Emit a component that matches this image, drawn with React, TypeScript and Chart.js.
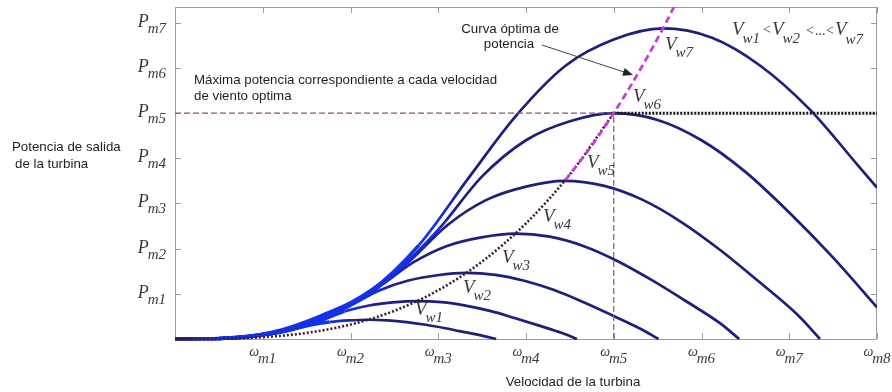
import { useEffect, useRef } from 'react';
import { Chart, registerables } from 'chart.js';

Chart.register(...registerables);

// ---------- axes ----------
const omegaTickValues = [1, 2, 3, 4, 5, 6, 7, 8];
const omegaTickSubs = ['m1', 'm2', 'm3', 'm4', 'm5', 'm6', 'm7', 'm8'];
const powerTickValues = [1, 2, 3, 4, 5, 6, 7];
const powerTickSubs = ['m1', 'm2', 'm3', 'm4', 'm5', 'm6', 'm7'];
const xMax = 8;
const yMax = 7.35;

// ---------- power curves (one per wind speed) ----------
const vw1X = [0, 0.22, 0.44, 0.66, 0.88, 1.1, 1.32, 1.54, 1.76, 1.98, 2.2, 2.42, 2.64, 2.86, 3.08, 3.3, 3.52, 3.66];
const vw1Y = [0, 0.001, 0.007, 0.025, 0.058, 0.119, 0.204, 0.307, 0.375, 0.411, 0.426, 0.413, 0.375, 0.315, 0.239, 0.153, 0.064, 0];

const vw2X = [0, 0.28, 0.55, 0.83, 1.1, 1.38, 1.66, 1.93, 2.21, 2.48, 2.76, 3.04, 3.31, 3.59, 3.86, 4.14, 4.42, 4.58];
const vw2Y = [0, 0.002, 0.014, 0.05, 0.118, 0.24, 0.41, 0.61, 0.742, 0.81, 0.84, 0.815, 0.739, 0.622, 0.47, 0.302, 0.126, 0];

const vw3X = [0, 0.33, 0.66, 1.0, 1.33, 1.66, 1.99, 2.32, 2.66, 2.99, 3.32, 3.65, 3.98, 4.32, 4.65, 4.98, 5.31, 5.51];
const vw3Y = [0, 0.003, 0.026, 0.09, 0.21, 0.44, 0.73, 1.07, 1.295, 1.412, 1.465, 1.421, 1.289, 1.084, 0.82, 0.527, 0.22, 0];

const vw4X = [0, 0.39, 0.78, 1.16, 1.55, 1.94, 2.33, 2.72, 3.1, 3.49, 3.88, 4.27, 4.66, 5.04, 5.43, 5.82, 6.21, 6.43];
const vw4Y = [0, 0.005, 0.042, 0.15, 0.36, 0.7, 1.16, 1.7, 2.06, 2.251, 2.335, 2.265, 2.055, 1.728, 1.308, 0.841, 0.35, 0];

const vw5X = [0, 0.44, 0.89, 1.33, 1.78, 2.22, 2.66, 3.11, 3.55, 4.0, 4.44, 4.88, 5.33, 5.77, 6.22, 6.66, 7.1, 7.35];
const vw5Y = [0, 0.008, 0.07, 0.24, 0.54, 1.02, 1.7, 2.53, 3.08, 3.374, 3.5, 3.395, 3.08, 2.59, 1.96, 1.26, 0.525, 0];

const vw6X = [0, 0.5, 1, 1.5, 2, 2.5, 3, 3.5, 4, 4.5, 5, 5.5, 6, 6.5, 7, 7.5, 8];
const vw6Y = [0, 0.012, 0.1, 0.36, 0.8, 1.46, 2.42, 3.6, 4.4, 4.82, 5.0, 4.85, 4.4, 3.7, 2.8, 1.8, 0.7];

const vw7X = [0, 0.56, 1.11, 1.67, 2.22, 2.78, 3.34, 3.89, 4.45, 5.0, 5.56, 6.12, 6.67, 7.23, 7.78, 8.0];
const vw7Y = [0, 0.018, 0.15, 0.52, 1.05, 2.08, 3.55, 4.95, 6.05, 6.63, 6.875, 6.669, 6.05, 5.088, 3.85, 3.35];

const curveNames = ['w1', 'w2', 'w3', 'w4', 'w5', 'w6', 'w7'];

// ---------- optimal power curve ----------
const optimalX = [0, 0.5, 1, 1.5, 2, 2.5, 3, 3.5, 4, 4.5, 5];
const optimalY = [0, 0.005, 0.04, 0.135, 0.32, 0.625, 1.08, 1.715, 2.56, 3.645, 5];
const optimalUpperX = [4.45, 4.7, 5.0, 5.3, 5.6, 5.8];
const optimalUpperY = [3.52, 4.15, 5.0, 5.96, 7.02, 7.8];

const ratedOmega = 5;
const ratedPower = 5;

// ---------- styling ----------
const NAVY = '#1e1e7e';
const NAVY_DARK = '#15155a';
const BLUE = '#1530e6';
const SERIF = '"Liberation Serif", "Times New Roman", "DejaVu Serif", serif';
const SANS = '"Liberation Sans", Arial, "DejaVu Sans", sans-serif';
const AXIS_GRAY = '#9c9c9c';
const TEXT_GRAY = '#3a3a3a';

const blueUntil = [1.8, 2.0, 2.2, 2.4, 2.6, 2.9, 3.0];

const pts = (xs: number[], ys: number[]) => xs.map((x, i) => ({ x, y: ys[i] }));

function strokeFor(branch: number) {
  return (c: any) => {
    const chart = c.chart;
    const area = chart.chartArea;
    if (!area) return NAVY;
    const xs = chart.scales.x;
    const x0 = xs.getPixelForValue(0);
    const x1 = xs.getPixelForValue(xMax);
    const g = chart.ctx.createLinearGradient(x0, 0, x1, 0);
    g.addColorStop(0, NAVY_DARK);
    g.addColorStop(0.35 / xMax, BLUE);
    g.addColorStop(branch / xMax, BLUE);
    g.addColorStop(Math.min(1, (branch + 0.35) / xMax), NAVY);
    g.addColorStop(1, NAVY);
    return g;
  };
}

function drawSub(
  ctx: CanvasRenderingContext2D,
  x: number,
  y: number,
  main: string,
  sub: string,
  mainSize: number,
  subSize: number,
  dy: number,
) {
  ctx.font = `italic ${mainSize}px ${SERIF}`;
  const w1 = ctx.measureText(main).width;
  ctx.fillText(main, x, y);
  ctx.font = `italic ${subSize}px ${SERIF}`;
  ctx.fillText(sub, x + w1 - 1, y + dy);
  return w1 - 1 + ctx.measureText(sub).width;
}

function measureSub(ctx: CanvasRenderingContext2D, main: string, sub: string, mainSize: number, subSize: number) {
  ctx.font = `italic ${mainSize}px ${SERIF}`;
  const w1 = ctx.measureText(main).width;
  ctx.font = `italic ${subSize}px ${SERIF}`;
  return w1 - 1 + ctx.measureText(sub).width;
}

const framePlugin = {
  id: 'frame',
  beforeDatasetsDraw(chart: any) {
    const { ctx, chartArea: a, scales } = chart;
    ctx.save();
    ctx.strokeStyle = AXIS_GRAY;
    ctx.lineWidth = 1;
    ctx.strokeRect(a.left + 0.5, a.top + 0.5, a.right - a.left - 1, a.bottom - a.top);
    ctx.beginPath();
    omegaTickValues.forEach((v) => {
      const px = Math.round(scales.x.getPixelForValue(v)) + 0.5;
      ctx.moveTo(px, a.bottom);
      ctx.lineTo(px, a.bottom - 6);
      ctx.moveTo(px, a.top);
      ctx.lineTo(px, a.top + 6);
    });
    powerTickValues.forEach((v) => {
      const py = Math.round(scales.y.getPixelForValue(v)) + 0.5;
      ctx.moveTo(a.left, py);
      ctx.lineTo(a.left + 6, py);
      ctx.moveTo(a.right, py);
      ctx.lineTo(a.right - 6, py);
    });
    ctx.stroke();
    ctx.restore();
  },
  afterDraw(chart: any) {
    const { ctx, chartArea: a, scales } = chart;
    ctx.save();
    ctx.textBaseline = 'alphabetic';
    ctx.textAlign = 'left';
    ctx.fillStyle = TEXT_GRAY;

    // y tick labels
    powerTickValues.forEach((v, i) => {
      const py = scales.y.getPixelForValue(v);
      const w = measureSub(ctx, 'P', powerTickSubs[i], 18, 15);
      drawSub(ctx, a.left - 9 - w, py + 4, 'P', powerTickSubs[i], 18, 15, 6);
    });
    // x tick labels
    omegaTickValues.forEach((v, i) => {
      const px = scales.x.getPixelForValue(v);
      const w = measureSub(ctx, 'ω', omegaTickSubs[i], 14, 15);
      drawSub(ctx, px - w / 2, a.bottom + 17, 'ω', omegaTickSubs[i], 14, 15, 7);
    });

    // curve labels
    const labelPos = [
      [415, 315],
      [463, 293],
      [502, 263],
      [543, 222],
      [587, 168],
      [633, 102],
      [665, 50],
    ];
    curveNames.forEach((n, i) => {
      drawSub(ctx, labelPos[i][0], labelPos[i][1], 'V', n, 19, 15, 7);
    });

    // legend of ordering
    drawSub(ctx, 732, 35, 'V', 'w1', 19, 15, 8);
    drawSub(ctx, 772, 35, 'V', 'w2', 19, 15, 8);
    drawSub(ctx, 835, 35, 'V', 'w7', 19, 15, 9);
    ctx.font = `14px ${SERIF}`;
    ctx.fillText('<', 763, 34);
    ctx.fillText('<', 806, 35);
    ctx.fillText('...', 815, 35);
    ctx.fillText('<', 826, 35);

    // sans annotations
    ctx.fillStyle = '#1e1e1e';
    ctx.font = `13.3px ${SANS}`;
    ctx.fillText('Máxima potencia correspondiente a cada velocidad', 194, 84);
    ctx.fillText('de viento optima', 194, 100);
    ctx.textAlign = 'center';
    ctx.fillText('Curva óptima de', 510, 33);
    ctx.fillText('potencia', 509, 48);
    ctx.fillText('Velocidad de la turbina', 573, 386);
    ctx.textAlign = 'left';
    ctx.fillText('Potencia de salida', 12, 151);
    ctx.fillText('de la turbina', 15, 168);

    // arrow
    const x0 = 542, y0 = 45, x1 = 633, y1 = 75;
    ctx.strokeStyle = '#444';
    ctx.fillStyle = '#222';
    ctx.lineWidth = 1;
    ctx.beginPath();
    ctx.moveTo(x0, y0);
    ctx.lineTo(x1 - 6, y1 - 2);
    ctx.stroke();
    const ang = Math.atan2(y1 - y0, x1 - x0);
    ctx.beginPath();
    ctx.moveTo(x1, y1);
    ctx.lineTo(x1 - 10 * Math.cos(ang) + 4 * Math.sin(ang), y1 - 10 * Math.sin(ang) - 4 * Math.cos(ang));
    ctx.lineTo(x1 - 10 * Math.cos(ang) - 4 * Math.sin(ang), y1 - 10 * Math.sin(ang) + 4 * Math.cos(ang));
    ctx.closePath();
    ctx.fill();
    ctx.restore();
  },
};

export default function App() {
  const ref = useRef<HTMLCanvasElement>(null);
  useEffect(() => {
    const canvas = ref.current;
    if (!canvas) return;
    const curveXs = [vw1X, vw2X, vw3X, vw4X, vw5X, vw6X, vw7X];
    const curveYs = [vw1Y, vw2Y, vw3Y, vw4Y, vw5Y, vw6Y, vw7Y];
    const curveSets = curveXs.map((xs, i) => ({
      label: 'V' + curveNames[i],
      data: pts(xs, curveYs[i]),
      borderColor: strokeFor(blueUntil[i]),
      borderWidth: 2.7,
      segment: {
        borderWidth: (s: any) => (s.p1.parsed.x <= blueUntil[i] && s.p0.parsed.x > 0.3 ? 3.4 : 2.7),
      },
      pointRadius: 0,
      cubicInterpolationMode: 'monotone' as const,
      order: 10 + i,
      clip: { left: 0, top: 0, right: 0, bottom: 3 },
    }));
    const chart = new Chart(canvas, {
      type: 'line',
      data: {
        datasets: [
          {
            label: 'optimal upper',
            data: pts(optimalUpperX, optimalUpperY),
            borderColor: '#c640d6',
            borderWidth: 2.8,
            borderDash: [7, 4],
            pointRadius: 0,
            cubicInterpolationMode: 'monotone',
            order: 0,
          },
          {
            label: 'optimal',
            data: pts(optimalX, optimalY),
            borderColor: '#3c1f30',
            borderWidth: 2.6,
            borderDash: [2, 2],
            pointRadius: 0,
            cubicInterpolationMode: 'monotone',
            order: 1,
            clip: { left: 0, top: 0, right: 0, bottom: 3 },
          },
          {
            label: 'rated right',
            data: [
              { x: ratedOmega, y: ratedPower },
              { x: xMax, y: ratedPower },
            ],
            borderColor: '#1a1a1a',
            borderWidth: 3,
            borderDash: [2, 1.5],
            pointRadius: 0,
            order: 2,
          },
          {
            label: 'rated left',
            data: [
              { x: 0, y: ratedPower },
              { x: ratedOmega, y: ratedPower },
            ],
            borderColor: '#8a5868',
            borderWidth: 1.2,
            borderDash: [6, 3],
            pointRadius: 0,
            order: 3,
          },
          {
            label: 'rated vertical',
            data: [
              { x: ratedOmega, y: 0 },
              { x: ratedOmega, y: ratedPower },
            ],
            borderColor: '#8a5868',
            borderWidth: 1.2,
            borderDash: [6, 3],
            pointRadius: 0,
            order: 3,
          },
          ...curveSets,
        ] as any,
      },
      options: {
        responsive: false,
        animation: false,
        events: [],
        layout: { padding: { left: 175, right: 15, top: 7, bottom: 53 } },
        scales: {
          x: { type: 'linear', min: 0, max: xMax, display: false },
          y: { type: 'linear', min: 0, max: yMax, display: false },
        },
        plugins: {
          legend: { display: false },
          tooltip: { enabled: false },
        },
      },
      plugins: [framePlugin],
    });
    return () => chart.destroy();
  }, []);
  return (
    <div style={{ position: 'absolute', left: 0, top: 0, width: 892, height: 392, background: '#fff' }}>
      <canvas ref={ref} width={892} height={392} style={{ display: 'block', width: 892, height: 392 }} />
    </div>
  );
}
